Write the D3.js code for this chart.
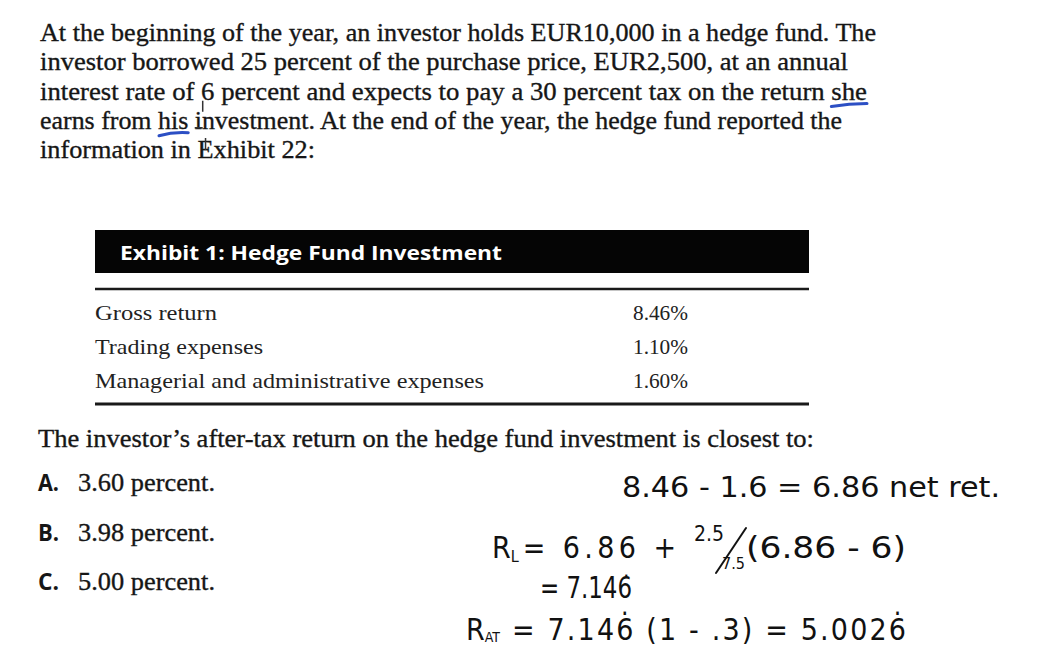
<!DOCTYPE html>
<html><head><meta charset="utf-8">
<script src="https://cdn.jsdelivr.net/npm/d3@7"></script>
<style>html,body{margin:0;padding:0;background:#fff;}svg{display:block;}</style>
</head><body>
<script>
// ---- data ----
const paragraphLines = [
  "At the beginning of the year, an investor holds EUR10,000 in a hedge fund. The",
  "investor borrowed 25 percent of the purchase price, EUR2,500, at an annual",
  "interest rate of 6 percent and expects to pay a 30 percent tax on the return she",
  "earns from his investment. At the end of the year, the hedge fund reported the",
  "information in Exhibit 22:"
];
const paragraphWidths = [836, 808, 827, 802, 275];
const exhibitTitle = "Exhibit 1: Hedge Fund Investment";
const rowLabels = ["Gross return", "Trading expenses", "Managerial and administrative expenses"];
const rowValues = [8.46, 1.10, 1.60];
const question = "The investor\u2019s after-tax return on the hedge fund investment is closest to:";
const choiceLetters = ["A.", "B.", "C."];
const choiceValues = [3.60, 3.98, 5.00];
const noteLine1 = "8.46 - 1.6 = 6.86 net ret.";
const noteLine2a = ["R", "L", "= 6.86 +"];
const noteFraction = ["2.5", "7.5"];
const noteLine2b = "(6.86 - 6)";
const noteLine3 = "= 7.146\u0307";
const noteLine4 = ["R", "AT", "= 7.146\u0307 (1 - .3) = 5.0026\u0307"];

// ---- layout ----
const W = 1044, H = 666;
const svg = d3.select("body").append("svg").attr("width", W).attr("height", H);
svg.append("rect").attr("width", W).attr("height", H).attr("fill", "#fff");

const serif = "'Liberation Serif', 'Times New Roman', serif";
const sans = "'Open Sans', 'Noto Sans', sans-serif";
const hand = "'DejaVu Sans Condensed', 'DejaVu Sans', sans-serif";
const ink = "#161616";

// paragraph
const yPara = d3.scalePoint().domain(d3.range(paragraphLines.length)).range([41, 158]);
const para = svg.append("g").selectAll("text").data(paragraphLines).join("text")
  .attr("x", 40).attr("y", (d, i) => yPara(i))
  .attr("font-family", serif).attr("font-size", 26).attr("fill", ink)
  .attr("stroke", ink).attr("stroke-width", 0.35)
  .attr("textLength", (d, i) => paragraphWidths[i]).attr("lengthAdjust", "spacingAndGlyphs")
  .text(d => d);

// blue pen marks on paragraph
const blue = "#2c4fc4";
function charExtent(node, str, word) {
  const idx = str.indexOf(word);
  const a = node.getExtentOfChar(idx), b = node.getExtentOfChar(idx + word.length - 1);
  return [a.x, b.x + b.width];
}
const pNodes = para.nodes();
{
  const [x0, x1] = charExtent(pNodes[2], paragraphLines[2], "she");
  svg.append("path").attr("d", `M${x0},${yPara(2) + 7} Q${(x0 + x1) / 2},${yPara(2) + 4} ${x1},${yPara(2) + 4}`)
    .attr("stroke", blue).attr("stroke-width", 3).attr("fill", "none").attr("stroke-linecap", "round");
  const [h0, h1] = charExtent(pNodes[3], paragraphLines[3], "his");
  svg.append("path").attr("d", `M${h0 + 1},${yPara(3) + 7} Q${(h0 + h1) / 2},${yPara(3) + 3} ${h1},${yPara(3) + 4}`)
    .attr("stroke", blue).attr("stroke-width", 3).attr("fill", "none").attr("stroke-linecap", "round");
  const [i0] = charExtent(pNodes[3], paragraphLines[3], "investment");
  svg.append("path").attr("d", `M${i0 + 8},${yPara(3) - 28} L${i0 + 8},${yPara(3) - 17} M${i0},${yPara(3) - 1} L${i0 + 8},${yPara(3) - 1}`)
    .attr("stroke", "#333").attr("stroke-width", 1.5).attr("fill", "none");
  const [e0] = charExtent(pNodes[4], paragraphLines[4], "Exhibit");
  svg.append("path").attr("d", `M${e0 + 8},${yPara(4) - 20} L${e0 + 8},${yPara(4) - 8}`)
    .attr("stroke", "#333").attr("stroke-width", 1.5).attr("fill", "none");
}

// exhibit table
const tx0 = 95, tx1 = 809;
svg.append("rect").attr("x", tx0).attr("y", 230).attr("width", tx1 - tx0).attr("height", 43).attr("fill", "#050505");
svg.append("text").attr("x", 120).attr("y", 260).attr("font-family", sans).attr("font-weight", 700)
  .attr("font-size", 20).attr("fill", "#fff").attr("textLength", 382).attr("lengthAdjust", "spacingAndGlyphs")
  .text(exhibitTitle);
svg.append("line").attr("x1", tx0).attr("x2", tx1).attr("y1", 289).attr("y2", 289).attr("stroke", "#1a1a1a").attr("stroke-width", 2.5);
svg.append("line").attr("x1", tx0).attr("x2", tx1).attr("y1", 404).attr("y2", 404).attr("stroke", "#1a1a1a").attr("stroke-width", 3);

const yRow = d3.scalePoint().domain(rowLabels).range([320, 388]);
const labelWidths = [122, 168, 389];
const rows = svg.append("g").selectAll("g").data(rowLabels).join("g");
rows.append("text").attr("x", tx0).attr("y", d => yRow(d))
  .attr("font-family", serif).attr("font-size", 21).attr("fill", "#222")
  .attr("textLength", (d, i) => labelWidths[i]).attr("lengthAdjust", "spacingAndGlyphs").text(d => d);
const fmtPct = d3.format(".2f");
rows.append("text").attr("x", 633).attr("y", d => yRow(d))
  .attr("font-family", serif).attr("font-size", 21).attr("fill", "#222")
  .attr("textLength", 55).attr("lengthAdjust", "spacingAndGlyphs")
  .text((d, i) => fmtPct(rowValues[i]) + "%");

// question
svg.append("text").attr("x", 38).attr("y", 447).attr("font-family", serif).attr("font-size", 26).attr("fill", ink)
  .attr("stroke", ink).attr("stroke-width", 0.35)
  .attr("textLength", 776).attr("lengthAdjust", "spacingAndGlyphs").text(question);

const yChoice = d3.scalePoint().domain(choiceLetters).range([491, 590]);
const ch = svg.append("g").selectAll("g").data(choiceLetters).join("g");
ch.append("text").attr("x", 38).attr("y", d => yChoice(d)).attr("font-family", "'Liberation Sans Narrow', " + sans)
  .attr("font-weight", 700).attr("font-size", 23).attr("fill", ink)
  .attr("textLength", 21).attr("lengthAdjust", "spacingAndGlyphs").text(d => d);
ch.append("text").attr("x", 78).attr("y", d => yChoice(d)).attr("font-family", serif).attr("font-size", 26).attr("fill", ink)
  .attr("stroke", ink).attr("stroke-width", 0.35)
  .attr("textLength", 137).attr("lengthAdjust", "spacingAndGlyphs")
  .text((d, i) => fmtPct(choiceValues[i]) + " percent.");

// handwritten notes
const hn = svg.append("g").attr("font-family", hand).attr("fill", "#111").attr("font-weight", 300);
hn.append("text").attr("x", 622).attr("y", 497).attr("font-size", 28)
  .attr("textLength", 378).attr("lengthAdjust", "spacingAndGlyphs").text(noteLine1);

const l2 = hn.append("text").attr("x", 492).attr("y", 558).attr("font-size", 30);
l2.append("tspan").text(noteLine2a[0]);
l2.append("tspan").attr("font-size", 16).attr("dy", 4).text(noteLine2a[1]);
l2.append("tspan").attr("dy", -4).attr("dx", 4).text(noteLine2a[2]);
{
  const n = l2.node();
  const start = n.getExtentOfChar(2).x;
  l2.select("tspan:nth-child(3)").attr("textLength", 676 - start).attr("lengthAdjust", "spacing");
}
hn.append("text").attr("x", 694).attr("y", 541).attr("font-size", 21).text(noteFraction[0]);
hn.append("path").attr("d", "M716,573 L746,528").attr("stroke", "#111").attr("stroke-width", 2).attr("fill", "none").attr("stroke-linecap", "round");
hn.append("text").attr("x", 722).attr("y", 569).attr("font-size", 16).text(noteFraction[1]);
hn.append("text").attr("x", 746).attr("y", 558).attr("font-size", 30)
  .attr("textLength", 160).attr("lengthAdjust", "spacingAndGlyphs").text(noteLine2b);

hn.append("text").attr("x", 540).attr("y", 598).attr("font-size", 30)
  .attr("textLength", 92).attr("lengthAdjust", "spacingAndGlyphs").text(noteLine3);

const l4 = hn.append("text").attr("x", 466).attr("y", 640).attr("font-size", 30);
l4.append("tspan").text(noteLine4[0]);
l4.append("tspan").attr("font-size", 14).attr("dy", 2).text(noteLine4[1]);
l4.append("tspan").attr("dy", -2).attr("dx", 12).text(noteLine4[2]);
{
  const n = l4.node();
  const start = n.getExtentOfChar(3).x;
  l4.select("tspan:nth-child(3)").attr("textLength", 906 - start).attr("lengthAdjust", "spacing");
}
</script>
</body></html>
